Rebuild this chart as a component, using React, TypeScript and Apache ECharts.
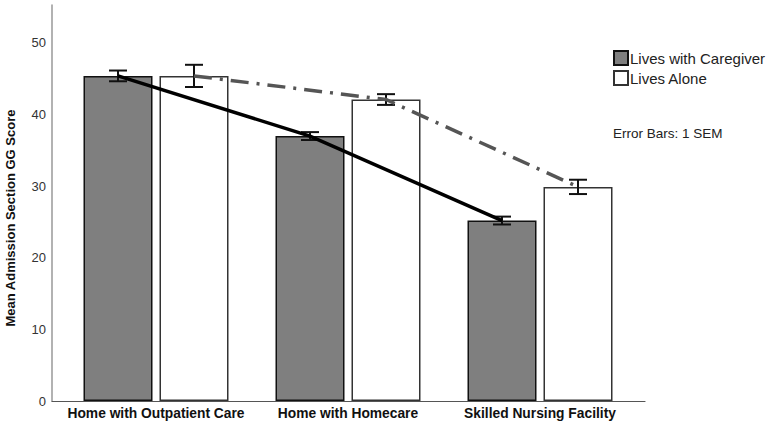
import React, { useEffect, useRef } from "react";
import * as echarts from "echarts";

const categories = ["Home with Outpatient Care", "Home with Homecare", "Skilled Nursing Facility"];
const caregiverMeans = [45.4, 37.0, 25.2];
const caregiverSem = [0.75, 0.55, 0.55];
const aloneMeans = [45.4, 42.1, 29.9];
const aloneSem = [1.55, 0.75, 1.0];
const seriesNames = ["Lives with Caregiver", "Lives Alone"];
const yTicks = [0, 10, 20, 30, 40, 50];

const BAR_WIDTH = 69;
const BAR_GAP = 7;
const OFFSET = (BAR_WIDTH + BAR_GAP) / 2;
const CAP = 9;
const Y_MAX = 55.3;

function errorBarSeries(means: number[], sems: number[], dir: number) {
  return {
    type: "custom",
    xAxisIndex: 1,
    yAxisIndex: 1,
    z: 5,
    silent: true,
    data: means.map((m, i) => [i, m, sems[i]]),
    encode: { x: 0, y: 1 },
    renderItem: (params: any, api: any) => {
      const i = api.value(0);
      const m = api.value(1);
      const s = api.value(2);
      const top = api.coord([i, m + s]);
      const bot = api.coord([i, m - s]);
      const x = top[0] + dir * OFFSET;
      const st = { stroke: "#111", lineWidth: 2 };
      return {
        type: "group",
        children: [
          { type: "line", shape: { x1: x, y1: top[1], x2: x, y2: bot[1] }, style: st },
          { type: "line", shape: { x1: x - CAP, y1: top[1], x2: x + CAP, y2: top[1] }, style: st },
          { type: "line", shape: { x1: x - CAP, y1: bot[1], x2: x + CAP, y2: bot[1] }, style: st },
        ],
      };
    },
  };
}

function meanLineSeries(means: number[], dir: number, style: any) {
  return {
    type: "custom",
    xAxisIndex: 1,
    yAxisIndex: 1,
    z: 6,
    silent: true,
    data: [[0, means[0]]],
    encode: { x: 0, y: 1 },
    renderItem: (params: any, api: any) => {
      const pts = means.map((m, i) => {
        const p = api.coord([i, m]);
        return [p[0] + dir * OFFSET, p[1]];
      });
      return { type: "polyline", shape: { points: pts }, style: { fill: "none", ...style } };
    },
  };
}

export default function App() {
  const ref = useRef<HTMLDivElement>(null);
  useEffect(() => {
    if (!ref.current) return;
    const chart = echarts.init(ref.current, null, { renderer: "svg" });
    const font = "Arial, 'Liberation Sans', sans-serif";
    chart.setOption({
      animation: false,
      backgroundColor: "#ffffff",
      textStyle: { fontFamily: font },
      grid: [
        { left: 52, right: 125, top: 5, bottom: 21 },
        { left: 60, right: 134, top: 5, bottom: 21 },
      ],
      xAxis: [
        {
          type: "category",
          gridIndex: 0,
          data: categories,
          axisLine: { show: true, lineStyle: { color: "#555", width: 1.2 } },
          axisTick: { show: false },
          axisLabel: { show: false },
          splitLine: { show: false },
        },
        {
          type: "category",
          gridIndex: 1,
          data: categories,
          axisLine: { show: false },
          axisTick: { show: false },
          axisLabel: {
            show: true,
            interval: 0,
            margin: 5,
            fontWeight: "bold",
            fontSize: 13.8,
            color: "#111",
            fontFamily: font,
          },
        },
      ],
      yAxis: [
        {
          type: "value",
          gridIndex: 0,
          min: 0,
          max: Y_MAX,
          interval: 10,
          axisLine: { show: true, lineStyle: { color: "#999", width: 1.5 } },
          axisTick: { show: false },
          splitLine: { show: false },
          axisLabel: {
            margin: 6,
            fontSize: 13,
            color: "#333",
            fontFamily: font,
            formatter: (v: number) => (yTicks.includes(v) ? String(v) : ""),
            showMaxLabel: false,
          },
        },
        {
          type: "value",
          gridIndex: 1,
          min: 0,
          max: Y_MAX,
          show: false,
        },
      ],
      legend: {
        orient: "vertical",
        left: 613,
        top: 50,
        padding: 0,
        itemWidth: 14,
        itemHeight: 14,
        itemGap: 4,
        icon: "rect",
        textStyle: { fontSize: 15, color: "#222", fontFamily: font, padding: [0, 0, 0, -3] },
        data: seriesNames,
      },
      graphic: [
        {
          type: "text",
          left: 613,
          top: 126,
          style: { text: "Error Bars: 1 SEM", font: `13.5px ${font}`, fill: "#222" },
        },
        {
          type: "text",
          x: 10,
          y: 218,
          rotation: Math.PI / 2,
          style: {
            text: "Mean Admission Section GG Score",
            font: `bold 13px ${font}`,
            fill: "#111",
            align: "center",
            verticalAlign: "middle",
          },
        },
      ],
      series: [
        {
          name: seriesNames[0],
          type: "bar",
          xAxisIndex: 1,
          yAxisIndex: 1,
          data: caregiverMeans,
          barWidth: BAR_WIDTH,
          barGap: `${(BAR_GAP / BAR_WIDTH) * 100}%`,
          itemStyle: { color: "#7f7f7f", borderColor: "#111", borderWidth: 1.5 },
        },
        {
          name: seriesNames[1],
          type: "bar",
          xAxisIndex: 1,
          yAxisIndex: 1,
          data: aloneMeans,
          barWidth: BAR_WIDTH,
          itemStyle: { color: "#ffffff", borderColor: "#333", borderWidth: 1.5 },
        },
        meanLineSeries(aloneMeans, 1, { stroke: "#555", lineWidth: 3.5, lineDash: [18, 8, 3, 8] }),
        meanLineSeries(caregiverMeans, -1, { stroke: "#000", lineWidth: 3.5 }),
        errorBarSeries(caregiverMeans, caregiverSem, -1),
        errorBarSeries(aloneMeans, aloneSem, 1),
      ],
    });
    return () => chart.dispose();
  }, []);
  return (
    <div
      ref={ref}
      style={{ position: "fixed", left: 0, top: 0, width: 770, height: 422, background: "#fff" }}
    />
  );
}
